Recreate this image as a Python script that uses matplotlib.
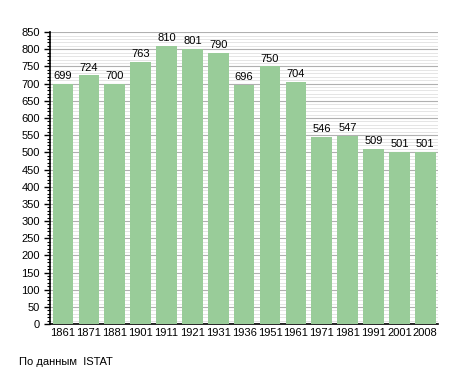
import matplotlib
matplotlib.use("Agg")
import matplotlib.pyplot as plt
from matplotlib.ticker import MultipleLocator

# Daten
years = ["1861", "1871", "1881", "1901", "1911", "1921", "1931", "1936",
         "1951", "1961", "1971", "1981", "1991", "2001", "2008"]
population = [699, 724, 700, 763, 810, 801, 790, 696, 750, 704, 546, 547, 509, 501, 501]

plt.rcParams["font.family"] = ["Liberation Sans", "DejaVu Sans"]

fig = plt.figure(figsize=(4.55, 3.73), dpi=100)
ax = fig.add_axes([0.11, 0.131, 0.853, 0.783])

x = range(len(years))
ax.bar(x, population, width=0.8, color="#99cc99", zorder=3)

for i, v in enumerate(population):
    ax.text(i, v + 8, str(v), ha="center", va="bottom", fontsize=8)

ax.set_xlim(-0.5, len(years) - 0.5)
ax.set_ylim(0, 850)
ax.set_xticks(list(x))
ax.set_xticklabels(years, fontsize=8)
ax.yaxis.set_major_locator(MultipleLocator(50))
ax.yaxis.set_minor_locator(MultipleLocator(10))
ax.tick_params(axis="y", labelsize=8, length=4, width=1)
ax.tick_params(axis="y", which="minor", length=2, width=0.8)
ax.tick_params(axis="x", length=0, pad=3)

ax.grid(axis="y", which="major", color="#b0b0b0", linewidth=0.8, zorder=0)
ax.grid(axis="y", which="minor", color="#e0e0e0", linewidth=0.6, zorder=0)

for s in ["top", "right"]:
    ax.spines[s].set_visible(False)
ax.spines["left"].set_linewidth(1.2)
ax.spines["bottom"].set_linewidth(1.2)

fig.text(0.042, 0.022, "По данным  ISTAT", fontsize=8)

plt.savefig("out.png", dpi=100)
